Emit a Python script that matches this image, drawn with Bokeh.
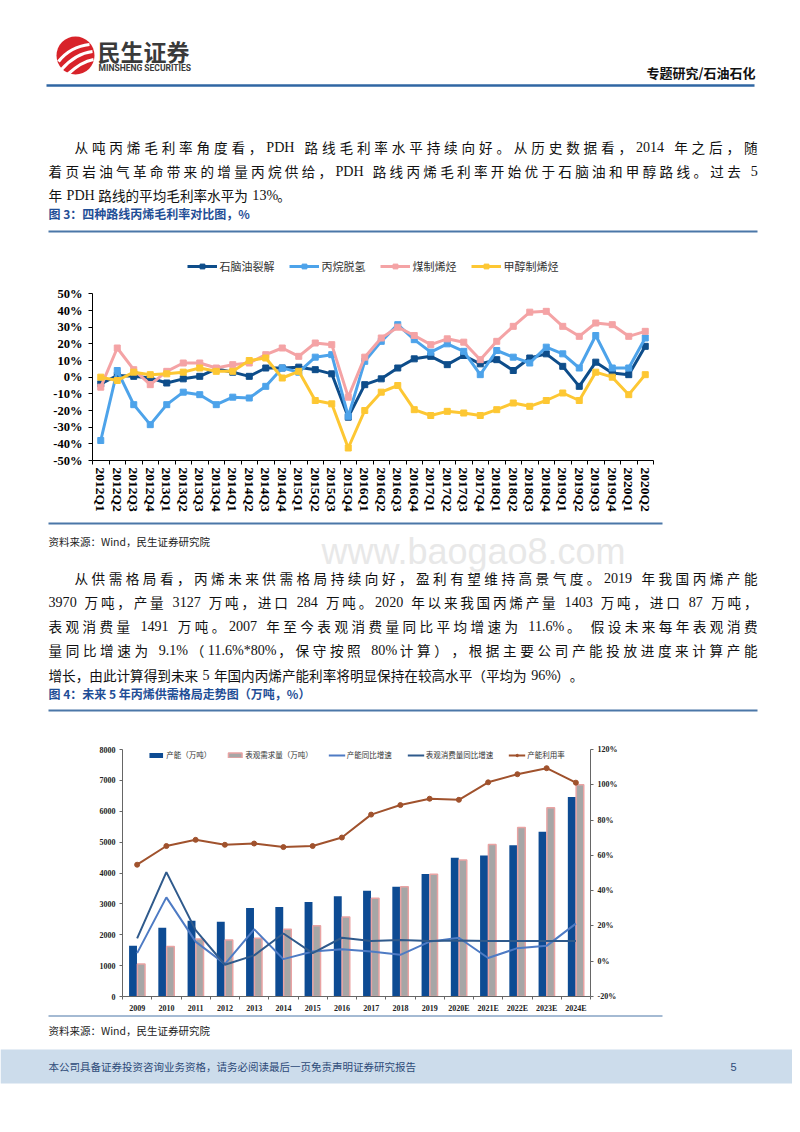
from bokeh.plotting import figure
from bokeh.models import Range1d, FixedTicker, LinearAxis, Legend, LegendItem, ColumnDataSource
from bokeh.transform import dodge
from bokeh.core.properties import value
from bokeh.embed import file_html
from bokeh.resources import INLINE

CJK = "Noto Sans CJK SC"
SERIF = "Liberation Serif"
SANS = "Liberation Sans"

# ---------------- chart 1 data: gross margin by route (%) ----------------
quarters = ["2012Q1", "2012Q2", "2012Q3", "2012Q4", "2013Q1", "2013Q2", "2013Q3", "2013Q4",
            "2014Q1", "2014Q2", "2014Q3", "2014Q4", "2015Q1", "2015Q2", "2015Q3", "2015Q4",
            "2016Q1", "2016Q2", "2016Q3", "2016Q4", "2017Q1", "2017Q2", "2017Q3", "2017Q4",
            "2018Q1", "2018Q2", "2018Q3", "2018Q4", "2019Q1", "2019Q2", "2019Q3", "2019Q4",
            "2020Q1", "2020Q2"]
naphtha_margin = [-4, 1, 0.5, -0.5, -3.5, -1, 0.5, 5, 3, 0.5, 5.5, 5.5, 6, 4.5, 2, -24,
                  -4.5, -1, 5.5, 11, 12.5, 7.5, 13, 8, 10.5, 4, 11.5, 14, 6.5, -5.5, 9, 2.5, 1.5, 18.5]
pdh_margin = [-38, 4, -16.5, -28.5, -16.5, -9, -10.5, -16.5, -12, -12.5, -5.5, 5.5, 3, 12, 13.5, -23.5,
              9.5, 21.5, 31.5, 22.5, 15, 20, 15.5, 1.5, 16, 12, 8.5, 18, 14, 5.5, 25, 5.5, 5.5, 23.5]
coal_margin = [-6, 17.5, 4.5, -4.5, 3.5, 8.5, 8.5, 5.5, 7.5, 8.5, 13.5, 17.5, 12.5, 20.5, 19.5, -12,
               12, 23.5, 30, 25, 19.5, 23, 21, 10.5, 21.5, 30.5, 39, 39.5, 30.5, 24.5, 32.5, 31.5, 24.5, 27.5]
mto_margin = [0, -2, 3, 1.5, 2, 3, 5.5, 3.5, 3.5, 10, 11.5, -0.5, 3.5, -14, -16, -42.5,
              -20, -9, -5, -19.5, -23, -20.5, -21.5, -23, -19.5, -15.5, -17.5, -14, -9.5, -14, 3, 0, -10.5, 1.5]
route_names = ["石脑油裂解", "丙烷脱氢", "煤制烯烃", "甲醇制烯烃"]
margin_ticks = [-50, -40, -30, -20, -10, 0, 10, 20, 30, 40, 50]

# ---------------- chart 2 data: supply / demand ----------------
years = ["2009", "2010", "2011", "2012", "2013", "2014", "2015", "2016", "2017", "2018", "2019",
         "2020E", "2021E", "2022E", "2023E", "2024E"]
capacity = [1640, 2227, 2450, 2418, 2865, 2897, 3057, 3249, 3428, 3556, 3970, 4495, 4569, 4899, 5335, 6464]
demand = [1054, 1620, 1863, 1831, 1885, 2182, 2290, 2578, 3185, 3556, 3962, 4419, 4920, 5474, 6113, 6859]
capacity_growth = [4.6, 36.2, 11.1, -1.6, 18.1, 1.2, 5.5, 6.8, 5.5, 3.6, 11.1, 13.3, 1.8, 7.4, 8.7, 21.3]
consumption_growth = [12.9, 50.5, 17.6, -2.0, 3.3, 15.7, 4.6, 13.3, 11.5, 12.0, 11.5, 11.7, 11.5, 11.5, 11.5, 11.5]
utilization = [54.7, 65.3, 68.8, 66.0, 66.7, 64.7, 65.3, 70.1, 83.1, 88.5, 92.1, 91.5, 101.4, 106.0, 109.4, 101.2]
series2_names = ["产能（万吨）", "表观需求量（万吨）", "产能同比增速", "表观消费量同比增速", "产能利用率"]
volume_ticks = [0, 1000, 2000, 3000, 4000, 5000, 6000, 7000, 8000]
pct_ticks = [-20, 0, 20, 40, 60, 80, 100, 120]

# ---------------- page text ----------------
para1 = [("从吨丙烯毛利率角度看，PDH 路线毛利率水平持续向好。从历史数据看，2014 年之后，随", True, True),
         ("着页岩油气革命带来的增量丙烷供给，PDH 路线丙烯毛利率开始优于石脑油和甲醇路线。过去 5", False, True),
         ("年 PDH 路线的平均毛利率水平为 13%。", False, False)]
para2 = [("从供需格局看，丙烯未来供需格局持续向好，盈利有望维持高景气度。2019 年我国丙烯产能", True, True),
         ("3970 万吨，产量 3127 万吨，进口 284 万吨。2020 年以来我国丙烯产量 1403 万吨，进口 87 万吨，", False, True),
         ("表观消费量 1491 万吨。2007 年至今表观消费量同比平均增速为 11.6%。 假设未来每年表观消费", False, True),
         ("量同比增速为 9.1%（11.6%*80%，保守按照 80%计算），根据主要公司产能投放进度来计算产能", False, True),
         ("增长，由此计算得到未来 5 年国内丙烯产能利率将明显保持在较高水平（平均为 96%）。", False, False)]

LAT_W = {c: 0.5 for c in "0123456789"}
LAT_W.update({"%": 0.833, ".": 0.25, "*": 0.5, "P": 0.556, "D": 0.722, "H": 0.722,
              "W": 0.944, "i": 0.278, "n": 0.5, "d": 0.5})
PAGE_W = 792


def tokenize(s):
    toks, cur = [], ""
    for ch in s:
        if ch == " ":
            if cur:
                toks.append(cur)
                cur = ""
            toks.append(" ")
        elif ord(ch) < 128:
            cur += ch
        else:
            if cur:
                toks.append(cur)
                cur = ""
            toks.append(ch)
    if cur:
        toks.append(cur)
    return toks


def layout_line(text, x0, x1, fs, justify, space=0.25):
    toks = tokenize(text)
    ws = []
    for t in toks:
        if t == " ":
            ws.append(space * fs)
        elif t.isascii():
            ws.append(sum(LAT_W.get(c, 0.5) for c in t) * fs)
        else:
            ws.append(fs)
    gap = (x1 - x0 - sum(ws)) / (len(toks) - 1) if justify else 0.0
    x = x0
    cj, la = [], []
    for t, w in zip(toks, ws):
        if t != " ":
            (la if t.isascii() else cj).append((x, t))
        x += w + gap
    return cj, la


def page_fig(top, h):
    f = figure(width=PAGE_W, height=h, x_range=Range1d(0, PAGE_W), y_range=Range1d(top + h, top),
               x_axis_type=None, y_axis_type=None, output_backend="svg", toolbar_location=None,
               min_border=0)
    f.outline_line_color = None
    return f


def draw_para(f, lines, y0, pitch, fs=13.6):
    cx, cy, ct, lx, ly, lt = [], [], [], [], [], []
    for k, (txt, indent, just) in enumerate(lines):
        yb = y0 + k * pitch + 0.37 * fs
        x0 = 74 if indent else 48
        cj, la = layout_line(txt, x0, 757, fs, just, space=0.25 if just else 0.33)
        for x, t in cj:
            cx.append(x); cy.append(yb); ct.append(t)
        for x, t in la:
            lx.append(x); ly.append(yb); lt.append(t)
    f.text(x=cx, y=cy, text=ct, text_font=value(CJK), text_font_size=f"{fs}px",
           text_baseline="alphabetic", text_align="left", text_color="#111111")
    f.text(x=lx, y=ly, text=lt, text_font=value(SERIF), text_font_size=f"{fs + 0.5}px",
           text_baseline="alphabetic", text_align="left", text_color="#111111")


def ptext(f, x, y, s, size, color="#111111", font=CJK, style="normal", align="left"):
    f.text(x=[x], y=[y], text=[s], text_font=value(font), text_font_size=size, text_color=color,
           text_font_style=style, text_baseline="middle", text_align=align)


RULE = "#4B77A8"
TITLE = "#1F4E96"

# ---------------- Fig A: header + paragraph 1 + title 3 ----------------
fa = page_fig(0, 240)
fa.circle(x=[75], y=[55], radius=19, fill_color="#D8232A", line_color=None)
fa.quadratic(x0=[58, 61, 67], y0=[61, 69, 74], x1=[89, 92, 93], y1=[44, 51, 59],
             cx=[70, 75, 81], cy=[46, 53, 61], line_color="white", line_width=3.2)
ptext(fa, 97, 50, "民生证券", "23px", color="#3A3A3A", style="bold")
ptext(fa, 98, 67, "MINSHENG SECURITIES", "8.5px", color="#3A3A3A", font="Roboto", style="bold")
ptext(fa, 755, 72, "专题研究/石油石化", "13px", color="#111111", style="bold", align="right")
fa.segment(x0=[46], y0=[85], x1=[754], y1=[85], line_color="#2F66A3", line_width=2.5)
draw_para(fa, para1, 141, 24)
ptext(fa, 48, 213, "图 3：四种路线丙烯毛利率对比图，%", "12px", color=TITLE, style="bold")
fa.segment(x0=[48], y0=[231], x1=[757], y1=[231], line_color=RULE, line_width=2)

# ---------------- Fig B: chart 1 ----------------
colors1 = ["#0E4D8A", "#4DA3EA", "#F4A3A5", "#FDC733"]
series1 = [naphtha_margin, pdh_margin, coal_margin, mto_margin]
xi = list(range(len(quarters)))

# frame top sits at the legend row; the axis itself is bounded to -50..50
p1 = figure(width=PAGE_W, height=280, x_range=Range1d(-0.5, len(quarters) - 0.5), y_range=Range1d(-50, 71.2),
            x_axis_type=None, y_axis_type=None, output_backend="svg", toolbar_location=None,
            min_border_left=92, min_border_right=139, min_border_top=18, min_border_bottom=60)
p1.outline_line_color = None
yax1 = LinearAxis(ticker=FixedTicker(ticks=margin_ticks), bounds=(-50, 50),
                  major_label_overrides={t: f"{t}%" for t in margin_ticks})
yax1.axis_line_color = "black"
yax1.major_tick_in = 0
yax1.major_tick_out = 4
yax1.minor_tick_out = 0
yax1.major_tick_line_color = "black"
yax1.major_label_standoff = 6
yax1.major_label_text_font = SERIF
yax1.major_label_text_font_style = "bold"
yax1.major_label_text_font_size = "12.5px"
yax1.major_label_text_color = "black"
p1.add_layout(yax1, "left")
xax1 = LinearAxis(ticker=FixedTicker(ticks=xi, minor_ticks=[i - 0.5 for i in range(len(quarters) + 1)]),
                  major_label_overrides={i: q for i, q in enumerate(quarters)},
                  major_label_orientation="vertical")
xax1.axis_line_color = "black"
xax1.major_tick_in = 0
xax1.major_tick_out = 0
xax1.minor_tick_in = 0
xax1.minor_tick_out = 4
xax1.minor_tick_line_color = "black"
xax1.major_label_standoff = 3
xax1.major_label_text_font = SERIF
xax1.major_label_text_font_style = "bold"
xax1.major_label_text_font_size = "13.5px"
xax1.major_label_text_color = "black"
p1.add_layout(xax1, "below")

items1 = []
for name, vals, col in zip(route_names, series1, colors1):
    rl = p1.line(x=xi, y=vals, line_color=col, line_width=3)
    rm = p1.scatter(x=xi, y=vals, marker="square", size=6, fill_color=col, line_color=col)
    items1.append(LegendItem(label=name, renderers=[rl, rm]))
leg1 = Legend(items=items1, orientation="horizontal", location="top_center",
              label_text_font=CJK, label_text_font_size="11px", label_text_color="#333333",
              glyph_width=30, glyph_height=12, spacing=14, label_standoff=3,
              padding=0, margin=0, border_line_alpha=0, background_fill_alpha=0)
p1.add_layout(leg1)

# ---------------- Fig C: source + paragraph 2 + title 4 ----------------
fc = page_fig(520, 215)
fc.text(x=[473], y=[551], text=["www.baogao8.com"], text_font=value(SANS), text_font_size="36px",
        text_color="#E8E8E8", text_align="center", text_baseline="middle")
fc.segment(x0=[48], y0=[523], x1=[662], y1=[523], line_color=RULE, line_width=2)
ptext(fc, 48, 541, "资料来源：Wind，民生证券研究院", "10.5px", color="#222222")
draw_para(fc, para2, 572, 24.3)
ptext(fc, 48, 693, "图 4：未来 5 年丙烯供需格局走势图（万吨，%）", "12px", color=TITLE, style="bold")
fc.segment(x0=[48], y0=[710], x1=[757], y1=[710], line_color=RULE, line_width=2)

# ---------------- Fig D: chart 2 ----------------
yi = list(range(len(years)))
src2 = ColumnDataSource(dict(x=yi, capacity=capacity, demand=demand, cap_g=capacity_growth,
                             con_g=consumption_growth, util=utilization))
p2 = figure(width=PAGE_W, height=280, x_range=Range1d(-0.5, len(years) - 0.5), y_range=Range1d(0, 8000),
            x_axis_type=None, y_axis_type=None, output_backend="svg", toolbar_location=None,
            min_border_left=122, min_border_right=202, min_border_top=14, min_border_bottom=16)
p2.outline_line_color = None
p2.extra_y_ranges = {"pct": Range1d(-20, 120)}


def style_small(ax):
    ax.axis_line_color = "#666666"
    ax.major_tick_in = 0
    ax.major_tick_out = 3
    ax.minor_tick_out = 0
    ax.major_tick_line_color = "#666666"
    ax.major_label_text_font = SERIF
    ax.major_label_text_font_style = "bold"
    ax.major_label_text_font_size = "8px"
    ax.major_label_text_color = "#222222"
    ax.major_label_standoff = 4


yl2 = LinearAxis(ticker=FixedTicker(ticks=volume_ticks))
style_small(yl2)
p2.add_layout(yl2, "left")
yr2 = LinearAxis(y_range_name="pct", ticker=FixedTicker(ticks=pct_ticks),
                 major_label_overrides={t: f"{t}%" for t in pct_ticks})
style_small(yr2)
p2.add_layout(yr2, "right")
xb2 = LinearAxis(ticker=FixedTicker(ticks=yi, minor_ticks=[i - 0.5 for i in range(len(years) + 1)]),
                 major_label_overrides={i: y for i, y in enumerate(years)})
style_small(xb2)
xb2.major_tick_out = 0
xb2.minor_tick_in = 0
xb2.minor_tick_out = 3
xb2.minor_tick_line_color = "#666666"
xb2.major_label_standoff = 4
p2.add_layout(xb2, "below")

b1 = p2.vbar(x=dodge("x", -0.14), top="capacity", width=0.27, source=src2,
             fill_color="#0D4B93", line_color=None)
b2 = p2.vbar(x=dodge("x", 0.14), top="demand", width=0.26, source=src2,
             fill_color="#A6A6A6", line_color="#E9A3A3", line_width=1.5)
l1 = p2.line(x="x", y="cap_g", source=src2, y_range_name="pct", line_color="#4E7BC4", line_width=2)
l2 = p2.line(x="x", y="con_g", source=src2, y_range_name="pct", line_color="#2F5A8C", line_width=2)
l3 = p2.line(x="x", y="util", source=src2, y_range_name="pct", line_color="#A0522D", line_width=2)
m3 = p2.scatter(x="x", y="util", source=src2, y_range_name="pct", marker="circle", size=5,
                fill_color="#A0522D", line_color="#A0522D")
leg2 = Legend(items=[LegendItem(label=series2_names[0], renderers=[b1]),
                     LegendItem(label=series2_names[1], renderers=[b2]),
                     LegendItem(label=series2_names[2], renderers=[l1]),
                     LegendItem(label=series2_names[3], renderers=[l2]),
                     LegendItem(label=series2_names[4], renderers=[l3, m3])],
              orientation="horizontal", location="top_center",
              label_text_font=CJK, label_text_font_size="7.5px", label_text_color="#333333",
              glyph_width=17, glyph_height=6, spacing=15, label_standoff=2,
              padding=0, margin=0, border_line_alpha=0, background_fill_alpha=0)
p2.add_layout(leg2)

# ---------------- Fig E: source + footer ----------------
fe = page_fig(1015, 113)
fe.segment(x0=[48], y0=[1015], x1=[662], y1=[1015], line_color=RULE, line_width=2)
ptext(fe, 48, 1030, "资料来源：Wind，民生证券研究院", "10.5px", color="#222222")
fe.quad(left=[0], right=[PAGE_W], top=[1049], bottom=[1083], fill_color="#CCDCEB", line_color=None)
ptext(fe, 48, 1066, "本公司具备证券投资咨询业务资格，请务必阅读最后一页免责声明证券研究报告", "10.5px",
      color="#2C4A78")
ptext(fe, 730, 1066, "5", "11px", color="#2C4A78", font=SANS)

# separate roots stacked in page order (avoids frame alignment between plots)
open("out.html", "w").write(file_html([fa, p1, fc, p2, fe], INLINE))
